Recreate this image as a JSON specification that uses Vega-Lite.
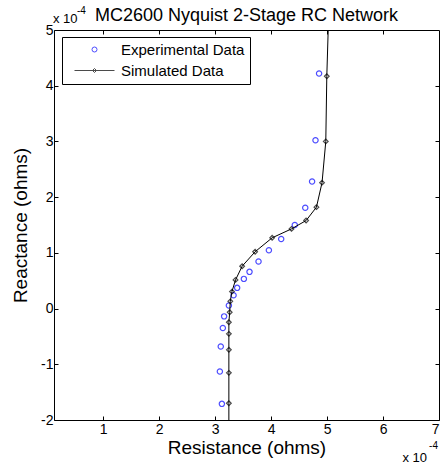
{
  "$schema": "https://vega.github.io/schema/vega-lite/v6.json",
  "width": 385,
  "height": 390,
  "autosize": "none",
  "padding": {"left": 54, "top": 30, "right": 3, "bottom": 51},
  "background": "white",
  "config": {
    "view": {"stroke": "black", "strokeWidth": 1},
    "font": "Liberation Sans",
    "axis": {
      "grid": false,
      "domain": false,
      "tickColor": "black",
      "tickSize": -4,
      "labelColor": "black",
      "labelFont": "Liberation Sans",
      "labelFontSize": 14,
      "titleFont": "Liberation Sans",
      "titleFontSize": 19,
      "titleFontWeight": "normal",
      "titleColor": "black"
    }
  },
  "title": {
    "text": "MC2600 Nyquist 2-Stage RC Network",
    "fontSize": 18,
    "fontWeight": "normal",
    "font": "Liberation Sans",
    "color": "black",
    "anchor": "middle",
    "frame": "group",
    "offset": -14,
    "dy": 19,
    "baseline": "alphabetic"
  },
  "data": {
    "values": [
      {"series": "Experimental Data", "k": 1, "R": 3.12, "X": -1.71},
      {"series": "Experimental Data", "k": 2, "R": 3.084, "X": -1.13},
      {"series": "Experimental Data", "k": 3, "R": 3.1, "X": -0.68},
      {"series": "Experimental Data", "k": 4, "R": 3.137, "X": -0.35},
      {"series": "Experimental Data", "k": 5, "R": 3.16, "X": -0.14},
      {"series": "Experimental Data", "k": 6, "R": 3.245, "X": 0.054},
      {"series": "Experimental Data", "k": 7, "R": 3.329, "X": 0.239},
      {"series": "Experimental Data", "k": 8, "R": 3.393, "X": 0.372},
      {"series": "Experimental Data", "k": 9, "R": 3.513, "X": 0.533},
      {"series": "Experimental Data", "k": 10, "R": 3.614, "X": 0.659},
      {"series": "Experimental Data", "k": 11, "R": 3.775, "X": 0.844},
      {"series": "Experimental Data", "k": 12, "R": 3.96, "X": 1.047},
      {"series": "Experimental Data", "k": 13, "R": 4.18, "X": 1.25},
      {"series": "Experimental Data", "k": 14, "R": 4.423, "X": 1.5},
      {"series": "Experimental Data", "k": 15, "R": 4.61, "X": 1.81},
      {"series": "Experimental Data", "k": 16, "R": 4.732, "X": 2.28},
      {"series": "Experimental Data", "k": 17, "R": 4.793, "X": 3.02},
      {"series": "Experimental Data", "k": 18, "R": 4.857, "X": 4.22},
      {"series": "Simulated Data", "k": 1, "R": 3.245, "X": -2.6},
      {"series": "Simulated Data", "k": 2, "R": 3.245, "X": -1.7},
      {"series": "Simulated Data", "k": 3, "R": 3.245, "X": -1.154},
      {"series": "Simulated Data", "k": 4, "R": 3.245, "X": -0.74},
      {"series": "Simulated Data", "k": 5, "R": 3.245, "X": -0.454},
      {"series": "Simulated Data", "k": 6, "R": 3.245, "X": -0.246},
      {"series": "Simulated Data", "k": 7, "R": 3.26, "X": -0.066},
      {"series": "Simulated Data", "k": 8, "R": 3.27, "X": 0.13},
      {"series": "Simulated Data", "k": 9, "R": 3.3, "X": 0.305},
      {"series": "Simulated Data", "k": 10, "R": 3.364, "X": 0.515},
      {"series": "Simulated Data", "k": 11, "R": 3.482, "X": 0.76},
      {"series": "Simulated Data", "k": 12, "R": 3.714, "X": 1.02},
      {"series": "Simulated Data", "k": 13, "R": 4.018, "X": 1.27},
      {"series": "Simulated Data", "k": 14, "R": 4.364, "X": 1.43},
      {"series": "Simulated Data", "k": 15, "R": 4.625, "X": 1.58},
      {"series": "Simulated Data", "k": 16, "R": 4.81, "X": 1.82},
      {"series": "Simulated Data", "k": 17, "R": 4.91, "X": 2.26},
      {"series": "Simulated Data", "k": 18, "R": 4.977, "X": 3.0},
      {"series": "Simulated Data", "k": 19, "R": 4.995, "X": 4.17},
      {"series": "Simulated Data", "k": 20, "R": 5.05, "X": 6.0}
    ]
  },
  "resolve": {"axis": {"x": "independent", "y": "independent"}},
  "layer": [
    {
      "transform": [{"filter": "datum.series === 'Experimental Data'"}],
      "mark": {"type": "point", "filled": false, "size": 28, "strokeWidth": 1.2, "clip": true},
      "encoding": {
        "x": {
          "field": "R", "type": "quantitative",
          "scale": {"domain": [0.12, 7], "nice": false, "zero": false},
          "axis": {"values": [1, 2, 3, 4, 5, 6, 7], "title": "Resistance (ohms)", "labelPadding": 6, "titlePadding": 2}
        },
        "y": {
          "field": "X", "type": "quantitative",
          "scale": {"domain": [-2, 5], "nice": false, "zero": false},
          "axis": {"values": [-2, -1, 0, 1, 2, 3, 4, 5], "title": "Reactance (ohms)", "labelPadding": 5, "titlePadding": 10,
            "labelExpr": "replace(datum.label, '\u2212', '-')"}
        },
        "color": {
          "field": "series", "type": "nominal",
          "scale": {"domain": ["Experimental Data", "Simulated Data"], "range": ["#0000ff", "#000000"]},
          "legend": {
            "title": null, "orient": "none", "legendX": 8, "legendY": 7,
            "strokeColor": "black", "fillColor": "white", "padding": 5,
            "symbolSize": 25, "symbolStrokeWidth": 1, "symbolOffset": 20,
            "labelOffset": 19, "labelFontSize": 15, "labelFont": "Liberation Sans",
            "labelColor": "black", "rowPadding": 5
          }
        },
        "shape": {
          "field": "series", "type": "nominal",
          "scale": {"domain": ["Experimental Data", "Simulated Data"], "range": ["circle", "M-8,0H8M0,-0.8L0.8,0L0,0.8L-0.8,0Z"]},
          "legend": {
            "title": null, "orient": "none", "legendX": 8, "legendY": 7,
            "strokeColor": "black", "fillColor": "white", "padding": 5,
            "symbolSize": 25, "symbolStrokeWidth": 1, "symbolOffset": 20,
            "labelOffset": 19, "labelFontSize": 15, "labelFont": "Liberation Sans",
            "labelColor": "black", "rowPadding": 5
          }
        }
      }
    },
    {
      "transform": [{"filter": "datum.series === 'Simulated Data'"}],
      "mark": {"type": "line", "color": "black", "strokeWidth": 1, "clip": true},
      "encoding": {
        "x": {"field": "R", "type": "quantitative", "scale": {"domain": [0.12, 7], "nice": false, "zero": false}, "axis": null},
        "y": {"field": "X", "type": "quantitative", "scale": {"domain": [-2, 5], "nice": false, "zero": false}, "axis": null},
        "order": {"field": "k", "type": "quantitative"}
      }
    },
    {
      "transform": [{"filter": "datum.series === 'Simulated Data'"}],
      "mark": {"type": "point", "shape": "diamond", "filled": false, "color": "black", "size": 22, "strokeWidth": 1.2, "clip": true},
      "encoding": {
        "x": {"field": "R", "type": "quantitative", "scale": {"domain": [0.12, 7], "nice": false, "zero": false},
          "axis": {"orient": "top", "labels": false, "title": null, "values": [1, 2, 3, 4, 5, 6]}},
        "y": {"field": "X", "type": "quantitative", "scale": {"domain": [-2, 5], "nice": false, "zero": false},
          "axis": {"orient": "right", "labels": false, "title": null, "values": [-1, 0, 1, 2, 3, 4]}}
      }
    },
    {
      "data": {"values": [{"t": "x 10"}]},
      "mark": {"type": "text", "align": "left", "baseline": "alphabetic", "dx": -1, "dy": -7, "fontSize": 13, "color": "black"},
      "encoding": {
        "text": {"field": "t"},
        "x": {"datum": 0.12, "type": "quantitative", "scale": {"domain": [0.12, 7], "nice": false, "zero": false}, "axis": null},
        "y": {"datum": 5, "type": "quantitative", "scale": {"domain": [-2, 5], "nice": false, "zero": false}, "axis": null}
      }
    },
    {
      "data": {"values": [{"t": "-4"}]},
      "mark": {"type": "text", "align": "left", "baseline": "alphabetic", "dx": 23, "dy": -16, "fontSize": 10, "color": "black"},
      "encoding": {
        "text": {"field": "t"},
        "x": {"datum": 0.12, "type": "quantitative", "scale": {"domain": [0.12, 7], "nice": false, "zero": false}, "axis": null},
        "y": {"datum": 5, "type": "quantitative", "scale": {"domain": [-2, 5], "nice": false, "zero": false}, "axis": null}
      }
    },
    {
      "data": {"values": [{"t": "x 10"}]},
      "mark": {"type": "text", "align": "right", "baseline": "alphabetic", "dx": -12, "dy": 42, "fontSize": 13, "color": "black"},
      "encoding": {
        "text": {"field": "t"},
        "x": {"datum": 7, "type": "quantitative", "scale": {"domain": [0.12, 7], "nice": false, "zero": false}, "axis": null},
        "y": {"datum": -2, "type": "quantitative", "scale": {"domain": [-2, 5], "nice": false, "zero": false}, "axis": null}
      }
    },
    {
      "data": {"values": [{"t": "-4"}]},
      "mark": {"type": "text", "align": "right", "baseline": "alphabetic", "dx": -1, "dy": 29, "fontSize": 10, "color": "black"},
      "encoding": {
        "text": {"field": "t"},
        "x": {"datum": 7, "type": "quantitative", "scale": {"domain": [0.12, 7], "nice": false, "zero": false}, "axis": null},
        "y": {"datum": -2, "type": "quantitative", "scale": {"domain": [-2, 5], "nice": false, "zero": false}, "axis": null}
      }
    }
  ]
}
